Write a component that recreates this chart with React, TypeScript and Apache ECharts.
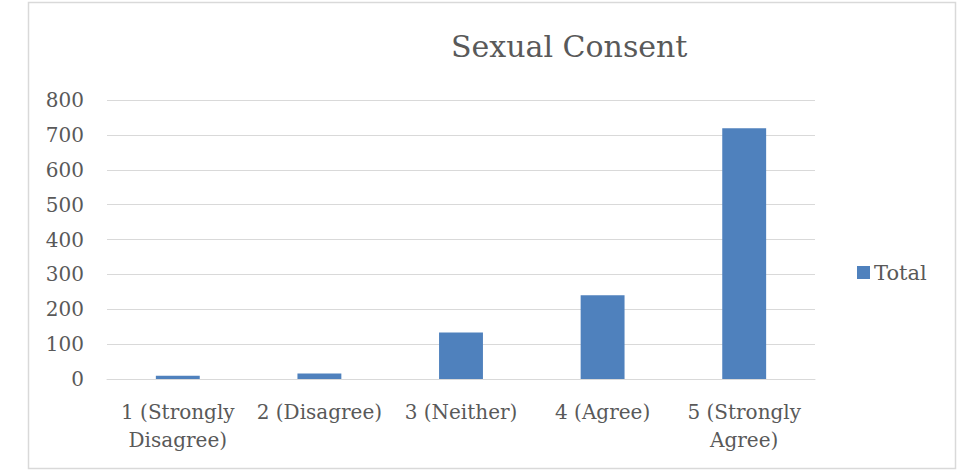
import React, { useEffect, useRef } from "react";
import * as echarts from "echarts";

const categories = [
  "1 (Strongly\nDisagree)",
  "2 (Disagree)",
  "3 (Neither)",
  "4 (Agree)",
  "5 (Strongly\nAgree)",
];
const totals = [9, 16, 133, 240, 719];
const yMin = 0;
const yMax = 800;
const yStep = 100;

const FONT = "'DejaVu Serif', 'Liberation Serif', serif";
const TEXT = "#595959";
const GRID = "#d9d9d9";
const BAR = "#4f81bd";

export default function App() {
  const ref = useRef<HTMLDivElement>(null);

  useEffect(() => {
    if (!ref.current) return;
    const chart = echarts.init(ref.current, null, { renderer: "svg" });
    chart.setOption({
      animation: false,
      backgroundColor: "#ffffff",
      title: {
        text: "Sexual Consent",
        left: 451,
        top: 31,
        textStyle: { fontFamily: FONT, fontSize: 30, fontWeight: "normal", color: TEXT },
        padding: 0,
      },
      graphic: [
        {
          type: "rect",
          shape: { x: 28.5, y: 2.5, width: 927, height: 466 },
          style: { fill: "none", stroke: GRID, lineWidth: 1.5 },
          silent: true,
        },
      ],
      legend: {
        data: ["Total"],
        left: 852,
        top: 257,
        itemWidth: 13,
        itemHeight: 13,
        itemGap: 6,
        icon: "rect",
        textStyle: { fontFamily: FONT, fontSize: 21, color: TEXT, padding: [0, 0, 0, -1] },
      },
      grid: { left: 107, right: 152, top: 100, bottom: 91, containLabel: false },
      xAxis: {
        type: "category",
        data: categories,
        axisLine: { show: true, lineStyle: { color: GRID, width: 1 } },
        axisTick: { show: false },
        axisLabel: {
          fontFamily: FONT,
          fontSize: 20,
          color: TEXT,
          margin: 19,
          lineHeight: 28,
          interval: 0,
        },
      },
      yAxis: {
        type: "value",
        min: yMin,
        max: yMax,
        interval: yStep,
        axisLine: { show: false },
        axisTick: { show: false },
        splitLine: { lineStyle: { color: GRID, width: 1 } },
        axisLabel: { fontFamily: FONT, fontSize: 20, color: TEXT, margin: 23 },
      },
      series: [
        {
          name: "Total",
          type: "bar",
          data: totals,
          barWidth: "31%",
          itemStyle: { color: BAR },
        },
      ],
    });
    return () => chart.dispose();
  }, []);

  return (
    <div
      ref={ref}
      style={{ position: "absolute", left: 0, top: 0, width: 967, height: 470 }}
    />
  );
}
